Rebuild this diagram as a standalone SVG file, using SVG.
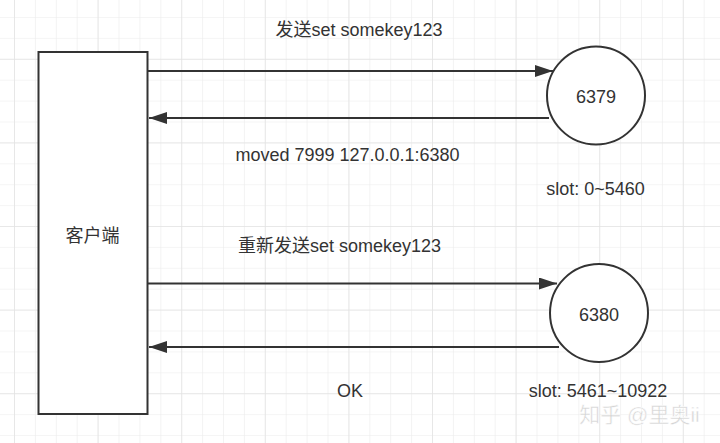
<svg xmlns="http://www.w3.org/2000/svg" width="720" height="443" viewBox="0 0 720 443">
<defs>
<pattern id="minor" x="14" y="17" width="20.9" height="20.9" patternUnits="userSpaceOnUse">
<path d="M0 0 H20.9 M0 0 V20.9" fill="none" stroke="#ececec" stroke-width="1.2"/>
</pattern>
<pattern id="major" x="97.6" y="58.8" width="83.6" height="83.6" patternUnits="userSpaceOnUse">
<path d="M0 0 H83.6 M0 0 V83.6" fill="none" stroke="#e3e3e3" stroke-width="1.4"/>
</pattern>
<marker id="arr" markerUnits="userSpaceOnUse" markerWidth="20" markerHeight="14" refX="18" refY="6" orient="auto">
<path d="M0 0 L18 6 L0 12 Z" fill="#333"/>
</marker>
<style>
.ln{fill:none;stroke:#333;stroke-width:2}
.t{font-family:"Liberation Sans","Noto Sans CJK SC",sans-serif;font-size:18px;fill:#333;text-anchor:middle}
.shape{fill:#fff;stroke:#333;stroke-width:2}
</style>
</defs>
<rect width="720" height="443" fill="#fff"/>
<rect width="720" height="443" fill="url(#minor)"/>
<rect width="720" height="443" fill="url(#major)"/>
<g id="client">
<rect class="shape" x="38.5" y="52" width="109" height="362"/>
<text class="t" x="92.5" y="242">客户端</text>
</g>
<g id="node6379">
<circle class="shape" cx="596" cy="95.5" r="49"/>
<text class="t" x="596" y="102.5">6379</text>
</g>
<g id="node6380">
<circle class="shape" cx="599" cy="313" r="49"/>
<text class="t" x="599" y="320.5">6380</text>
</g>
<g id="connectors">
<line class="ln" x1="148" y1="71" x2="553" y2="71" marker-end="url(#arr)"/>
<line class="ln" x1="549" y1="118" x2="149" y2="118" marker-end="url(#arr)"/>
<line class="ln" x1="148" y1="283.5" x2="557" y2="283.5" marker-end="url(#arr)"/>
<line class="ln" x1="559" y1="347" x2="149" y2="347" marker-end="url(#arr)"/>
</g>
<g id="labels">
<text class="t" x="359" y="36">发送set somekey123</text>
<text class="t" x="347.5" y="161">moved 7999 127.0.0.1:6380</text>
<text class="t" x="595.5" y="195">slot: 0~5460</text>
<text class="t" x="339.5" y="252">重新发送set somekey123</text>
<text class="t" x="350" y="397">OK</text>
<text class="t" x="598" y="397">slot: 5461~10922</text>
<text x="639.5" y="422" text-anchor="middle" font-family="Liberation Sans,'Noto Sans CJK SC',sans-serif" font-size="21" fill="#d4d4d4" stroke="#fff" stroke-width="0.5">知乎 @里奥ii</text>
</g>
</svg>
